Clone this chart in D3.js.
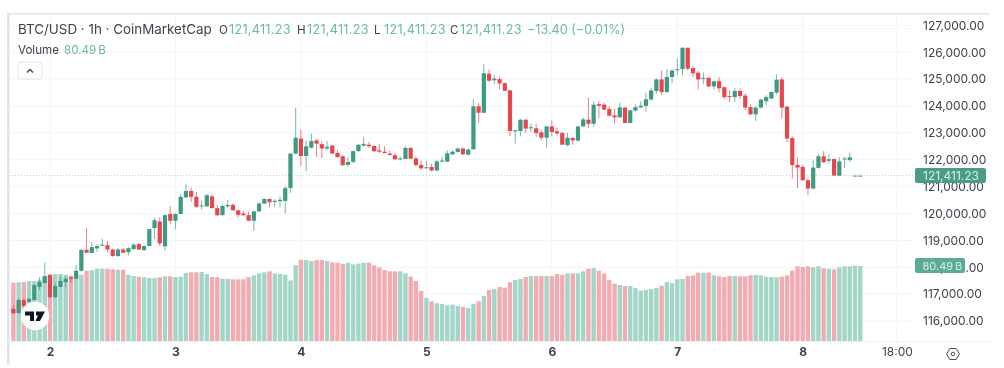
<!DOCTYPE html>
<html>
<head>
<meta charset="utf-8">
<script src="https://cdn.jsdelivr.net/npm/d3@7"></script>
<style>
    html, body { margin: 0; padding: 0; background: #fff; overflow: hidden; }
    svg { display: block; font-family: Inter, "Liberation Sans", sans-serif; filter: blur(0.35px); }
</style>
</head>
<body>
<svg id="chart" width="1004" height="368"></svg>
<script>
const opens = [
    116450,116300,116780,116710,116780,117270,117410,117710,116890,117270,
    117450,117620,117570,117870,118650,118530,118700,118810,118820,118660,
    118420,118660,118560,118680,118860,118640,118790,119460,119700,118780,
    119980,119730,119980,120600,120840,120620,120270,120270,120640,120200,
    119940,120270,120320,120120,120000,119940,119730,120080,120370,120540,
    120440,120460,120470,120950,122230,122790,122140,122450,122720,122580,
    122420,122530,122250,122130,121810,121920,122320,122530,122560,122510,
    122350,122300,122230,122170,122030,122030,122440,122050,121810,121690,
    121730,121600,121930,121930,122200,122290,122420,122190,122390,123990,
    123750,125200,124960,125000,124850,124580,123060,123070,123490,123170,
    123170,123020,122820,123240,123060,123000,122540,122810,122710,123240,
    123490,123340,124070,124050,123890,123650,123580,123940,123370,123830,
    123950,124000,124240,124560,124990,124520,125080,125340,125370,126170,
    125410,125240,125020,125050,124730,124920,124700,124370,124330,124560,
    124390,123960,123690,123940,124180,124280,124500,124990,123980,122810,
    121810,121730,121240,120930,121700,122130,121960,122030,121410,122030,
    121990,121411.23,121411.23
];
const highs = [
    116590,116820,116850,116850,117370,117630,118170,117720,117410,117670,
    117670,117670,118080,118650,119460,118930,118860,119060,118980,118700,
    118720,118720,118750,118900,118900,118820,119420,119830,119850,119980,
    120280,120010,120720,121090,120970,120800,120470,120720,120680,120320,
    120350,120510,120380,120150,120100,120080,120100,120420,120570,120570,
    120530,120650,121030,122230,123940,123120,122720,122970,122790,122700,
    122700,122540,122350,122170,122100,122350,122590,122850,122660,122540,
    122580,122500,122330,122250,122130,122500,122460,122100,121960,121960,
    121860,121980,122100,122350,122350,122450,122450,122420,124270,124110,
    125550,125360,125170,125100,124880,124610,123120,123520,123520,123340,
    123340,123120,123260,123470,123200,123020,123010,122840,123270,123570,
    124310,124170,124170,124140,123990,123900,124120,123970,123860,124060,
    124170,124500,124680,125030,125320,125360,125350,125770,126170,126170,
    125500,125300,125250,125080,124950,125080,124730,124580,124680,124650,
    124480,124060,124010,124270,124400,124540,125180,125080,123990,122870,
    122080,121820,121340,122010,122230,122320,122200,122040,122100,122090,
    122270,121411.23,121411.23
];
const lows = [
    116260,116260,116530,116680,116780,117150,117410,116830,116850,117260,
    117260,117410,117560,117830,118530,118530,118570,118790,118570,118390,
    118390,118530,118430,118640,118640,118600,118790,119050,118790,118610,
    119600,119420,119980,120600,120430,120200,120150,120240,120200,119900,
    119920,120200,120090,119850,119900,119710,119350,120050,120350,120220,
    120220,120220,120000,120770,122200,121760,121570,122420,122100,122070,
    122350,122230,122080,121760,121730,121880,122300,122480,122450,122290,
    122230,122240,122150,122000,121980,122020,122030,121760,121640,121670,
    121570,121580,121910,121910,122180,122270,122190,122170,122380,123370,
    123740,124910,124800,124610,124560,122880,122600,122870,123000,123030,
    122850,122720,122450,122870,122910,122550,122500,122560,122690,123220,
    123180,123240,123550,123840,123620,123340,123560,123360,123360,123800,
    123920,123800,124210,124460,124420,124500,124850,125140,125140,125320,
    125080,124610,124830,124700,124610,124510,124240,124150,124150,124270,
    123840,123660,123440,123910,124040,124260,124430,123540,122660,121300,
    120950,121200,120680,120900,121680,121880,121860,121400,121400,121700,
    121920,121411.23,121411.23
];
const closes = [
    116290,116780,116560,116830,117340,117450,117670,116890,117300,117490,
    117570,117570,117870,118650,118540,118750,118790,118840,118660,118420,
    118660,118540,118710,118840,118660,118790,119420,119750,118890,119940,
    119730,119980,120620,120840,120620,120250,120300,120680,120200,119940,
    120280,120320,120120,119950,119940,119730,120080,120370,120540,120420,
    120470,120510,120940,122230,122820,122140,122500,122700,122600,122420,
    122480,122230,122100,121800,121920,122320,122560,122590,122500,122320,
    122300,122250,122180,122020,122050,122440,122040,121800,121680,121720,
    121600,121940,121970,122240,122300,122420,122200,122380,123990,123750,
    125220,124940,125020,124840,124570,123070,123100,123490,123160,123210,
    123000,122820,123240,123030,122980,122560,122820,122720,123240,123500,
    123340,124050,124010,123870,123640,123580,123950,123370,123840,123960,
    124010,124250,124580,124990,124520,125080,125320,125370,126170,125390,
    125220,124990,125050,124730,124920,124660,124330,124350,124560,124370,
    123940,123690,123940,124240,124330,124520,124980,123940,122790,121800,
    121710,121240,120930,121710,122130,121910,122020,121410,121940,122050,
    122090,121411.23,121411.23
];
// volume in billions
const volumes = [
    62.6,63.0,63.3,64.4,64.4,65.5,69.0,71.6,71.9,71.9,
    71.1,70.1,71.1,71.1,75.4,75.9,77.6,77.6,77.6,76.9,
    76.5,76.5,71.1,69.7,69.0,68.4,67.6,67.6,68.4,69.4,
    69.4,68.7,69.0,73.0,73.7,73.7,74.0,71.9,68.7,68.4,
    66.8,66.8,66.2,66.2,66.2,68.4,70.5,72.6,73.7,74.8,
    72.6,71.9,71.1,65.1,81.5,87.2,86.9,85.8,86.9,86.9,
    85.8,84.4,84.0,82.9,84.0,82.3,82.9,84.0,84.0,81.2,
    79.1,76.2,74.8,74.8,74.8,72.6,69.0,64.4,53.7,46.5,
    42.6,40.5,39.7,38.3,39.0,37.6,36.5,35.4,40.0,42.6,
    48.3,54.7,55.8,57.9,57.2,63.0,65.5,66.5,68.7,69.7,
    69.7,69.7,69.7,69.7,71.9,71.1,72.6,72.6,72.6,74.8,
    77.6,78.3,75.4,72.6,65.5,61.5,60.1,59.0,59.0,56.9,
    54.0,54.7,55.8,56.9,59.3,63.3,62.2,66.2,66.5,69.7,
    70.5,73.3,73.3,73.3,70.5,69.4,68.7,69.7,69.7,69.4,
    69.4,70.5,70.8,70.5,69.0,68.7,68.4,69.0,70.5,75.4,
    80.2,79.4,80.2,79.1,80.2,78.0,77.6,76.9,79.1,80.2,
    80.2,80.8,80.49
];

const priceTicks = [116000,117000,118000,119000,120000,121000,122000,123000,124000,125000,126000,127000];
// hours since the 2nd at 00:00
const timeTicks = [0,24,48,72,96,120,144,162];
const timeLabels = ["2","3","4","5","6","7","8","18:00"];
const firstHour = -7;
const lastPrice = 121411.23;
const lastVolume = 80.49;

const legendLabels = ["O","H","L","C"];
const legendX = [219,297,374,450];

const green = "#3f9a83", red = "#e5474f";
const volGreen = "#a4d6c8", volRed = "#f2acb1";
const textColor = "#3f424d", legendGreen = "#6bb9a4", gridColor = "#f3f4f7", frameColor = "#e1e4ee";
const axisFont = "12px", legendFont = "12.6px";

let svg = d3.select("#chart");

let x = d3.scaleLinear().domain([0, 168]).range([50, 928.2]);
let y = d3.scaleLinear().domain([116000, 127000]).range([321, 25.4]);
let yVol = d3.scaleLinear().domain([0, lastVolume]).range([341, 266]);

let bars = opens.map((o, i) => ({
    hour: firstHour + i,
    open: o, high: highs[i], low: lows[i], close: closes[i], volume: volumes[i],
    up: closes[i] >= o
}));

let chart = svg.append("g").attr("class", "pane");

// grid
chart.selectAll(".h-grid").data(priceTicks).enter().append("line")
    .attr("x1", 9).attr("x2", 915)
    .attr("y1", d => y(d)).attr("y2", d => y(d))
    .attr("stroke", gridColor);

chart.selectAll(".v-grid").data(timeTicks).enter().append("line")
    .attr("x1", d => x(d)).attr("x2", d => x(d))
    .attr("y1", 14).attr("y2", 341)
    .attr("stroke", gridColor);

// volume bars
chart.selectAll(".vol").data(bars).enter().append("rect")
    .attr("class", "vol")
    .attr("x", d => x(d.hour) - 2.2)
    .attr("width", 4.4)
    .attr("y", d => yVol(d.volume))
    .attr("height", d => yVol(0) - yVol(d.volume))
    .attr("fill", d => d.up ? volGreen : volRed);

// price line
chart.append("line")
    .attr("x1", 9).attr("x2", 915)
    .attr("y1", y(lastPrice)).attr("y2", y(lastPrice))
    .attr("stroke", "#a5d8ca")
    .attr("stroke-width", 1)
    .attr("stroke-dasharray", "1 2");

// candles
chart.selectAll(".wick").data(bars).enter().append("line")
    .attr("class", "wick")
    .attr("x1", d => x(d.hour)).attr("x2", d => x(d.hour))
    .attr("y1", d => y(d.high)).attr("y2", d => y(d.low))
    .attr("stroke", d => d.up ? green : red)
    .attr("stroke-opacity", 0.7);

chart.selectAll(".body").data(bars).enter().append("rect")
    .attr("class", "body")
    .attr("x", d => x(d.hour) - 2.1)
    .attr("width", 4.2)
    .attr("y", d => y(Math.max(d.open, d.close)))
    .attr("height", d => Math.max(y(Math.min(d.open, d.close)) - y(Math.max(d.open, d.close)), 1))
    .attr("fill", d => d.up ? green : red);

// frame
svg.append("rect").attr("x", 7).attr("y", 13).attr("width", 2.5).attr("height", 352).attr("fill", frameColor);
svg.append("rect").attr("x", 7).attr("y", 13).attr("width", 983).attr("height", 1.5).attr("fill", frameColor);
svg.append("line").attr("x1", 9).attr("x2", 990).attr("y1", 341.7).attr("y2", 341.7).attr("stroke", "#eef0f4");

// axes
let yAxis = svg.append("g")
    .attr("transform", "translate(923,0)")
    .call(d3.axisRight(y).tickValues(priceTicks).tickFormat(d3.format(",.2f")).tickSize(0).tickPadding(0));
yAxis.select(".domain").remove();
yAxis.selectAll("text")
    .attr("fill", textColor)
    .style("font-family", "Inter")
    .style("font-size", axisFont);

let xAxis = svg.append("g")
    .attr("transform", "translate(0,347)")
    .call(d3.axisBottom(x).tickValues(timeTicks).tickFormat((d, i) => timeLabels[i]).tickSize(0).tickPadding(0));
xAxis.select(".domain").remove();
xAxis.selectAll("text")
    .attr("fill", textColor)
    .style("font-family", "Inter")
    .style("font-size", axisFont)
    .style("font-weight", (d, i) => timeLabels[i].length > 1 ? 400 : 700);

// last value tags
svg.append("rect").attr("x", 915).attr("y", y(lastPrice) - 7.5).attr("width", 71).attr("height", 15).attr("rx", 2).attr("fill", "#4b9c87");
svg.append("text").attr("x", 923).attr("y", y(lastPrice) + 4)
    .attr("fill", "#d6ece6").style("font-size", axisFont)
    .text(d3.format(",.2f")(lastPrice));

svg.append("rect").attr("x", 915).attr("y", yVol(lastVolume) - 8).attr("width", 50).attr("height", 15).attr("rx", 2).attr("fill", "#5cab97");
svg.append("text").attr("x", 922.5).attr("y", yVol(lastVolume) + 3.5)
    .attr("fill", "#d6ece6").style("font-size", "11px")
    .text("80.49\u2009B");

// legend
svg.append("text").attr("x", 18).attr("y", 34)
    .attr("fill", textColor).style("font-size", "13.4px")
    .text("BTC/USD · 1h · CoinMarketCap");

legendLabels.forEach((label, i) => {
    svg.append("text").attr("x", legendX[i]).attr("y", 33.5)
        .attr("fill", textColor).style("font-size", "11.6px").text(label);
    svg.append("text").attr("x", legendX[i] + 10).attr("y", 33.5)
        .attr("fill", legendGreen).style("font-size", legendFont).style("letter-spacing", "0.3px")
        .text(d3.format(",.2f")(lastPrice));
});
svg.append("text").attr("x", 527).attr("y", 33.5)
    .attr("fill", legendGreen).style("font-size", legendFont).text("−13.40 (−0.01%)");

svg.append("text").attr("x", 18).attr("y", 54)
    .attr("fill", textColor).style("font-size", "11.6px").text("Volume");
svg.append("text").attr("x", 64).attr("y", 54)
    .attr("fill", legendGreen).style("font-size", "11.6px").text("80.49\u2009B");

// collapse button
svg.append("rect").attr("x", 18).attr("y", 62).attr("width", 24).attr("height", 17).attr("rx", 3)
    .attr("fill", "#fff").attr("stroke", frameColor);
svg.append("path").attr("d", "M27 72.5l3-3 3 3").attr("fill", "none").attr("stroke", "#3f424d").attr("stroke-width", 1.4);

// logo
let logo = svg.append("g").attr("transform", "translate(35,316)");
logo.append("circle").attr("r", 14.2).attr("fill", "#fff");
logo.append("path").attr("d", "M-10-4.5h9v9.5h-4v-5.5h-5z M1-4.5h9l-5 9.5h-4.5l2.5-5.5h-2z").attr("fill", "#131722");

// settings icon
let gear = svg.append("g").attr("transform", "translate(953,354)").attr("fill", "none").attr("stroke", "#4a4d58");
gear.append("path").attr("d", "M-3.2-5.5h6.4l3.2 5.5-3.2 5.5h-6.4l-3.2-5.5z");
gear.append("circle").attr("r", 1.8);
</script>
</body>
</html>
